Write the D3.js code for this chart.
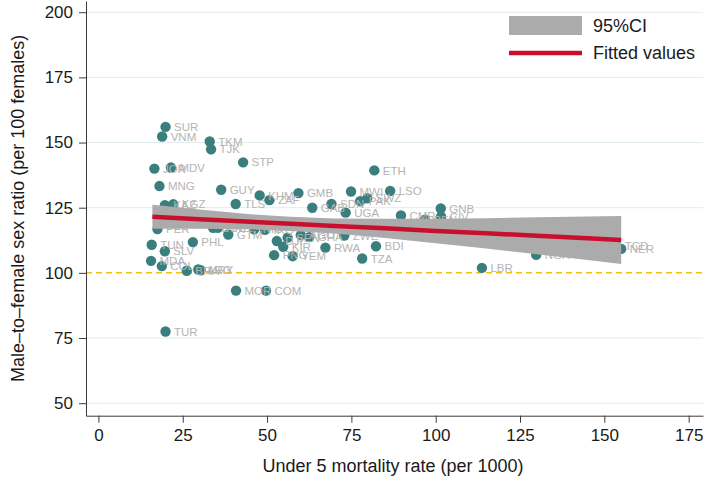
<!DOCTYPE html>
<html>
<head>
<meta charset="utf-8">
<script src="https://cdn.jsdelivr.net/npm/d3@7"></script>
<style>
  html, body { margin: 0; padding: 0; background: #ffffff; }
  svg { display: block; font-family: "Liberation Sans", Arial, Helvetica, sans-serif; }
</style>
</head>
<body>
<svg id="chart" width="709" height="478"></svg>
<script>
// ---- Data ----
const countries = ["SUR","VNM","TKM","TJK","STP","JOR","MDV","MNG","GUY","KHM","ZAF","GMB","TLS","KAZ","KGZ",
  "PER","PHL","TUN","SLV","MDA","COL","BRA","ARG","URY","MOR","COM","TUR","GTM","BOL","HND","NIC","IRQ",
  "DJI","KIR","SEN","AGO","GHA","PNG","YEM","RWA","ZWE","GAB","SDN","UGA","MWI","PAK","SWZ","LSO","ETH",
  "CMR","BEN","GNB","CIV","BDI","TZA","LBR","NGA","TCD","NER"];
const u5mr = [19.9,18.9,33.0,33.4,42.9,16.6,21.5,18.1,36.4,47.8,50.7,59.3,40.7,19.7,22.2,
  17.5,28.0,15.8,19.7,15.6,18.8,26.2,29.6,30.3,40.8,49.7,19.9,38.5,34.0,35.4,46.2,49.4,
  52.9,54.8,56.1,60.0,62.5,52.1,57.6,67.3,72.9,63.4,69.1,73.3,74.9,77.6,79.7,86.5,81.8,
  89.7,96.8,101.5,101.6,82.3,78.2,113.7,129.8,153.5,155.0];
const sexRatio = [156.0,152.3,150.4,147.4,142.4,140.0,140.4,133.3,131.9,129.7,127.9,130.6,126.4,126.0,126.3,
  116.8,111.8,110.8,108.3,104.6,102.6,100.8,101.3,101.0,93.2,93.2,77.5,114.7,117.3,117.3,116.7,116.5,
  112.2,110.0,113.5,114.5,113.7,106.8,106.4,109.7,114.3,125.0,126.4,123.1,131.2,127.5,128.6,131.4,139.3,
  122.0,120.4,124.7,121.6,110.2,105.5,101.9,106.9,110.5,109.2];

// Fitted values and 95% CI, read along the x range
const fitX     = [16, 30, 45, 57, 70, 85, 100, 115, 130, 145, 155];
const fitY     = [121.5, 120.6, 119.6, 118.8, 118.0, 117.1, 116.1, 115.2, 114.2, 113.3, 112.6];
const ciLower  = [116.9, 116.9, 116.7, 116.1, 115.1, 113.4, 111.4, 109.3, 107.1, 104.9, 103.4];
const ciUpper  = [126.1, 124.3, 122.5, 121.5, 120.9, 120.8, 120.8, 121.0, 121.3, 121.6, 121.8];

const xTicks = [0, 25, 50, 75, 100, 125, 150, 175];
const yTicks = [50, 75, 100, 125, 150, 175, 200];
const refLine = 100;
const legendLabels = ["95%CI", "Fitted values"];

// ---- Drawing ----
const svg = d3.select("#chart");
const L = 86, R = 703, T = 1, B = 415.7;

const x = d3.scaleLinear().domain([-3.68, 179.25]).range([L, R]);
const y = d3.scaleLinear().domain([45.2, 204.3]).range([B, T]);

const teal = "#3a7f7d";
const bandCol = "#ababab";
const red = "#c8102e";

// gridlines
svg.append("g").selectAll("line")
  .data(yTicks.filter(d => d !== refLine))
  .join("line")
  .attr("x1", L).attr("x2", R)
  .attr("y1", d => y(d)).attr("y2", d => y(d))
  .attr("stroke", "#e1ecee").attr("stroke-width", 1);

// reference line at 100
svg.append("line")
  .attr("x1", L).attr("x2", R)
  .attr("y1", y(refLine)).attr("y2", y(refLine))
  .attr("stroke", "#f3c20f").attr("stroke-width", 1.5)
  .attr("stroke-dasharray", "6,4");

// points
const pts = countries.map((c, i) => ({c, x: u5mr[i], y: sexRatio[i]}));
svg.append("g").selectAll("circle")
  .data(pts).join("circle")
  .attr("cx", d => x(d.x)).attr("cy", d => y(d.y))
  .attr("r", 5.2).attr("fill", teal);

svg.append("g").selectAll("text")
  .data(pts).join("text")
  .attr("x", d => x(d.x) + 8.5).attr("y", d => y(d.y))
  .attr("dy", "0.36em")
  .attr("font-size", 11.5).attr("fill", "#b4b4b4")
  .text(d => d.c);

// CI band
const band = fitX.map((v, i) => ({x: v, lo: ciLower[i], hi: ciUpper[i], f: fitY[i]}));
svg.append("path")
  .datum(band)
  .attr("d", d3.area().x(d => x(d.x)).y0(d => y(d.lo)).y1(d => y(d.hi)))
  .attr("fill", bandCol);

svg.append("path")
  .datum(band)
  .attr("d", d3.line().x(d => x(d.x)).y(d => y(d.f)))
  .attr("fill", "none").attr("stroke", red).attr("stroke-width", 4.5);

// axes
const xAxis = d3.axisBottom(x).tickValues(xTicks).tickSize(7).tickPadding(6).tickSizeOuter(0);
const gx = svg.append("g").attr("transform", `translate(0,${B})`).call(xAxis);
const yAxis = d3.axisLeft(y).tickValues(yTicks).tickSize(7).tickPadding(6).tickSizeOuter(0);
const gy = svg.append("g").attr("transform", `translate(${L},0)`).call(yAxis);
[gx, gy].forEach(g => {
  g.select(".domain").attr("stroke", "#3a3a3a");
  g.selectAll(".tick line").attr("stroke", "#3a3a3a");
  g.selectAll(".tick text").attr("font-size", 17).attr("fill", "#1a1a1a")
    .attr("font-family", "'Liberation Sans', Arial, sans-serif");
});

// axis titles
svg.append("text")
  .attr("x", 393).attr("y", 472)
  .attr("text-anchor", "middle").attr("font-size", 18).attr("fill", "#1a1a1a")
  .text("Under 5 mortality rate (per 1000)");
svg.append("text")
  .attr("transform", `translate(24,${(T + B) / 2}) rotate(-90)`)
  .attr("text-anchor", "middle").attr("font-size", 18).attr("fill", "#1a1a1a")
  .text("Male\u2013to\u2013female sex ratio (per 100 females)");

// legend
const lg = svg.append("g");
lg.append("rect").attr("x", 509).attr("y", 16).attr("width", 73).attr("height", 19).attr("fill", bandCol);
lg.append("line").attr("x1", 509).attr("x2", 582).attr("y1", 53).attr("y2", 53)
  .attr("stroke", red).attr("stroke-width", 4.5);
lg.selectAll("text").data(legendLabels).join("text")
  .attr("x", 593).attr("y", (d, i) => 25.5 + i * 27.5)
  .attr("dy", "0.35em").attr("font-size", 18).attr("fill", "#1a1a1a")
  .text(d => d);
</script>
</body>
</html>
